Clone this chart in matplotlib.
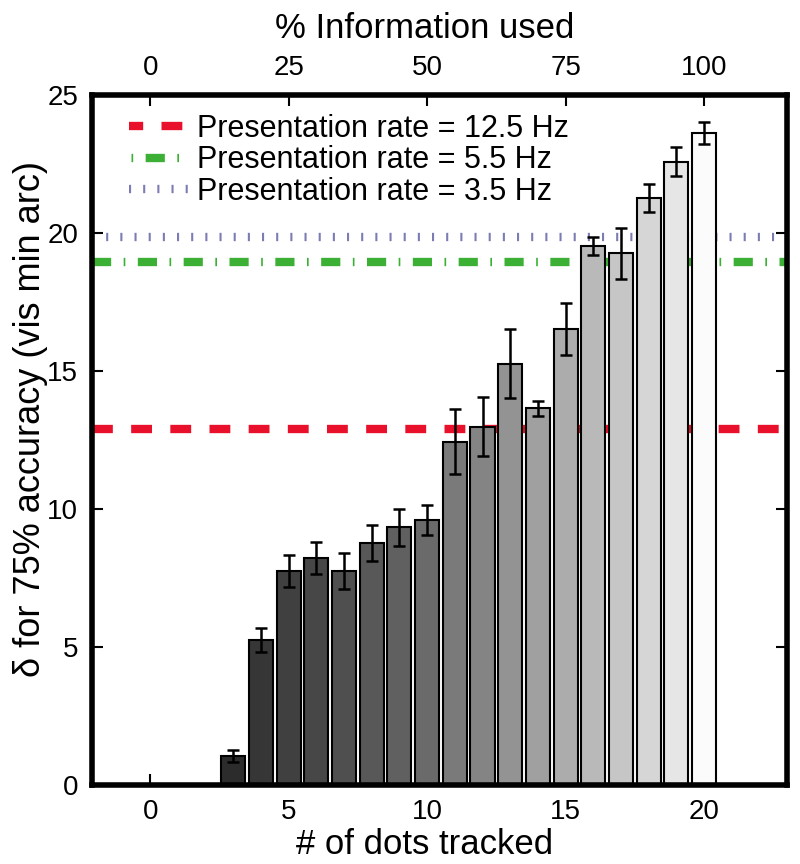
import matplotlib
matplotlib.use("Agg")
import matplotlib.pyplot as plt
from matplotlib.lines import Line2D

plt.rcParams['font.family'] = ['Liberation Sans', 'DejaVu Sans']

# data
dots = [3, 4, 5, 6, 7, 8, 9, 10, 11, 12, 13, 14, 15, 16, 17, 18, 19, 20]
delta = [1.05, 5.25, 7.76, 8.22, 7.75, 8.78, 9.33, 9.6, 12.43, 12.97,
         15.25, 13.64, 16.53, 19.53, 19.26, 21.26, 22.58, 23.61]
err = [0.22, 0.44, 0.58, 0.57, 0.65, 0.65, 0.66, 0.53, 1.17, 1.07,
       1.25, 0.28, 0.94, 0.33, 0.92, 0.5, 0.52, 0.4]
bar_colors = ['#2c2c2c', '#363636', '#404040', '#474747', '#4f4f4f', '#585858',
              '#606060', '#6a6a6a', '#7a7a7a', '#848484', '#939393', '#a0a0a0',
              '#acacac', '#b9b9b9', '#c6c6c6', '#d6d6d6', '#e6e6e6', '#fbfbfb']

rate_labels = ['Presentation rate = 12.5 Hz', 'Presentation rate = 5.5 Hz',
               'Presentation rate = 3.5 Hz']
rate_levels = [12.9, 18.95, 19.85]
rate_colors = ['#e8102a', '#3cb034', '#7c7cb4']
rate_dashes = [(2.5, 2.2), (2.3, 1.5, 0.2, 1.5), (0.25, 1.45)]
legend_offsets = [0.8, 3.5, 0.0]

x_ticks = [0, 5, 10, 15, 20]
y_ticks = [0, 5, 10, 15, 20, 25]
pct_ticks = [0, 25, 50, 75, 100]

fig = plt.figure(figsize=(8, 8.64), dpi=100)
ax = fig.add_axes([0.115, 0.0914, 0.869, 0.799])

# horizontal reference lines, behind the bars
handles = []
for lvl, col, dsh, off, lab in zip(rate_levels, rate_colors, rate_dashes,
                                   legend_offsets, rate_labels):
    ax.axhline(lvl, color=col, lw=6, dashes=dsh, dash_capstyle='butt', zorder=1)
    handles.append(Line2D([], [], color=col, lw=6, linestyle=(off, dsh),
                          dash_capstyle='butt', label=lab))

ax.bar(dots, delta, width=0.87, color=bar_colors, edgecolor='black',
       linewidth=1.5, zorder=2)
ax.errorbar(dots, delta, yerr=err, fmt='none', ecolor='black', elinewidth=1.8,
            capsize=4.5, capthick=1.8, zorder=3)

ax.set_xlim(-2.1, 23)
ax.set_ylim(0, 25)
ax.set_xticks(x_ticks)
ax.set_yticks(y_ticks)
ax.tick_params(direction='in', length=8, width=1.5, labelsize=20,
               right=True, pad=10)

for s in ax.spines.values():
    s.set_linewidth(4)

ax.set_xlabel('# of dots tracked', fontsize=25)
ax.xaxis.set_label_coords(0.478, -0.062)
ax.set_ylabel('δ for 75% accuracy (vis min arc)', fontsize=26)
ax.yaxis.set_label_coords(-0.063, 0.53)

top = ax.secondary_xaxis('top', functions=(lambda x: x * 5, lambda p: p / 5))
top.set_xticks(pct_ticks)
top.tick_params(direction='in', length=8, width=1.5, labelsize=20, pad=10)
top.set_xlabel('% Information used', fontsize=25, labelpad=12)
top.xaxis.label.set_x(0.478)

ax.legend(handles=handles, loc='upper left', frameon=False, fontsize=22,
          handlelength=2.0, handletextpad=0.25, labelspacing=0.05,
          borderaxespad=0, bbox_to_anchor=(0.035, 0.99))

fig.savefig('out.png', dpi=100)
